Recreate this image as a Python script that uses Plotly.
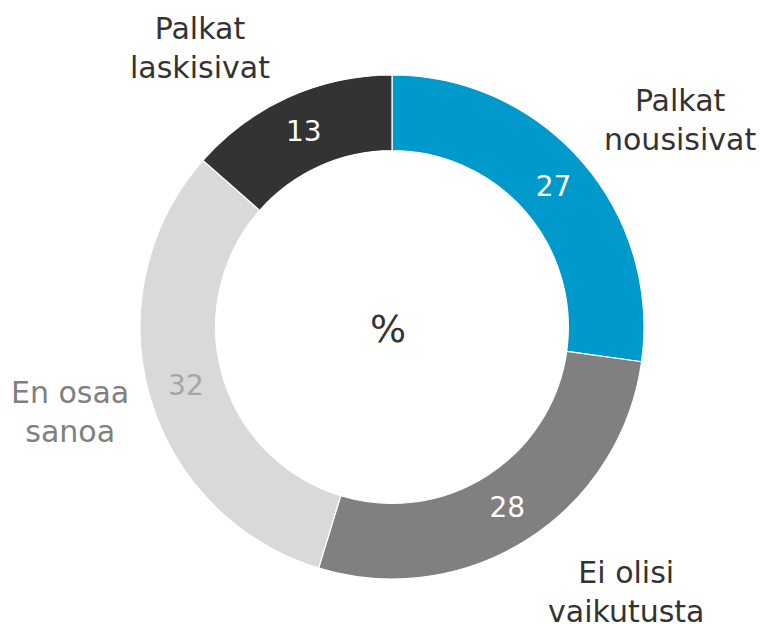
import plotly.graph_objects as go

categories = ["Palkat nousisivat", "Ei olisi vaikutusta", "En osaa sanoa", "Palkat laskisivat"]
values = [27.2, 27.5, 31.8, 13.5]
value_labels = ["27", "28", "32", "13"]
colors = ["#0099CC", "#808080", "#D9D9D9", "#333333"]
value_text_colors = ["#FFFFFF", "#FFFFFF", "#A6A6A6", "#FFFFFF"]
label_lines = ["Palkat<br>nousisivat", "Ei olisi<br>vaikutusta", "En osaa<br>sanoa", "Palkat<br>laskisivat"]
label_colors = ["#333333", "#333333", "#808080", "#333333"]
label_pos = [(680, 120), (626, 592), (70, 412), (200, 48)]  # pixel centres of category labels

W, H = 764, 624
cx, cy, R = 392, 327, 252
FONT = "DejaVu Sans, Verdana, sans-serif"

fig = go.Figure(go.Pie(
    labels=categories,
    values=values,
    text=value_labels,
    sort=False,
    direction="clockwise",
    rotation=0,
    hole=0.70,
    marker=dict(colors=colors, line=dict(color="#FFFFFF", width=1.2)),
    texttemplate="%{text}",
    textposition="inside",
    insidetextorientation="horizontal",
    insidetextfont=dict(family=FONT, size=28, color=value_text_colors),
    hovertemplate="%{label}: %{text}<extra></extra>",
    showlegend=False,
    domain=dict(x=[(cx - R) / W, (cx + R) / W], y=[(H - cy - R) / H, (H - cy + R) / H]),
))

annotations = [dict(x=(cx - 4) / W, y=1 - (cy + 2) / H, xref="paper", yref="paper", text="%",
                    showarrow=False, font=dict(family=FONT, size=38, color="#333333"),
                    xanchor="center", yanchor="middle")]
for txt, col, (px, py) in zip(label_lines, label_colors, label_pos):
    annotations.append(dict(x=px / W, y=1 - py / H, xref="paper", yref="paper", text=txt,
                            showarrow=False, font=dict(family=FONT, size=30, color=col),
                            xanchor="center", yanchor="middle", align="center"))

fig.update_layout(
    width=W, height=H,
    margin=dict(l=0, r=0, t=0, b=0),
    paper_bgcolor="#FFFFFF",
    plot_bgcolor="#FFFFFF",
    annotations=annotations,
)

fig.write_html("out.html", config={"displayModeBar": False},
               post_script="document.body.style.margin='0';document.body.style.overflow='hidden';")
